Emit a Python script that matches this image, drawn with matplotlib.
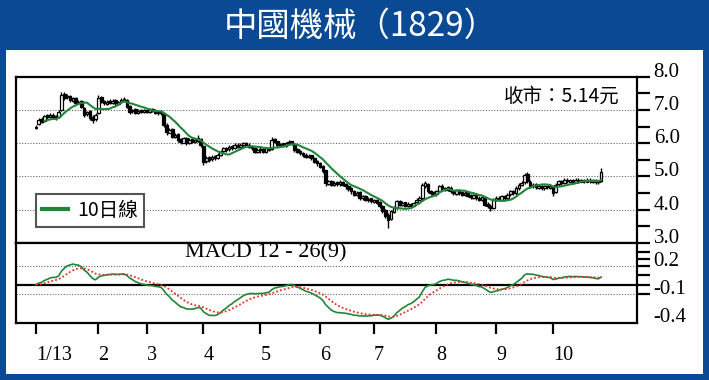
import matplotlib
matplotlib.use('Agg')
import matplotlib.pyplot as plt
from matplotlib.patches import Rectangle
from matplotlib.lines import Line2D
import numpy as np
import pandas as pd

plt.rcParams['axes.unicode_minus'] = False

# daily candles, one list per month (Jan-Oct 2013)
jan_open = [6.45, 6.58, 6.72, 6.68, 6.85, 6.80, 6.86, 6.82, 6.78, 7.00, 7.48, 7.38, 7.42, 7.28, 7.36, 7.22, 7.26, 7.05, 6.88, 6.98, 6.80, 6.72]
jan_high = [6.55, 6.75, 6.78, 6.86, 6.88, 6.90, 6.90, 6.85, 7.00, 7.55, 7.55, 7.48, 7.45, 7.40, 7.40, 7.30, 7.30, 7.10, 6.98, 7.00, 6.85, 6.90]
jan_low = [6.42, 6.55, 6.60, 6.65, 6.74, 6.78, 6.76, 6.70, 6.76, 6.98, 7.30, 7.32, 7.25, 7.25, 7.15, 7.18, 7.05, 6.80, 6.82, 6.70, 6.60, 6.68]
jan_close = [6.50, 6.70, 6.65, 6.82, 6.78, 6.85, 6.80, 6.75, 6.95, 7.45, 7.35, 7.40, 7.30, 7.35, 7.20, 7.25, 7.10, 6.85, 6.95, 6.75, 6.70, 6.85]

feb_open = [6.90, 7.38, 7.28, 7.18, 7.28, 7.22, 7.30, 7.18, 7.24, 7.28, 7.30, 7.12, 6.96, 7.02, 6.92, 7.00, 6.94]
feb_high = [7.45, 7.42, 7.30, 7.30, 7.32, 7.32, 7.32, 7.28, 7.35, 7.38, 7.32, 7.15, 7.04, 7.05, 7.02, 7.04, 7.04]
feb_low = [6.88, 7.20, 7.15, 7.15, 7.18, 7.18, 7.16, 7.14, 7.20, 7.24, 7.05, 6.88, 6.90, 6.88, 6.88, 6.90, 6.90]
feb_close = [7.35, 7.25, 7.20, 7.25, 7.22, 7.28, 7.20, 7.25, 7.30, 7.32, 7.10, 6.95, 7.00, 6.92, 6.98, 6.95, 7.00]

mar_open = [7.00, 6.94, 7.02, 6.98, 6.90, 6.96, 6.88, 6.55, 6.32, 6.42, 6.18, 6.28, 6.12, 6.02, 6.16, 6.02, 6.12, 6.04, 6.08, 6.12]
mar_high = [7.04, 7.05, 7.05, 7.02, 6.98, 7.00, 6.90, 6.60, 6.45, 6.45, 6.30, 6.30, 6.15, 6.20, 6.20, 6.15, 6.15, 6.15, 6.25, 6.15]
mar_low = [6.90, 6.90, 6.94, 6.88, 6.86, 6.86, 6.50, 6.25, 6.30, 6.15, 6.15, 6.05, 5.98, 6.00, 5.95, 5.98, 6.00, 6.00, 6.05, 5.90]
mar_close = [6.95, 7.00, 6.98, 6.92, 6.95, 6.90, 6.55, 6.35, 6.40, 6.20, 6.25, 6.10, 6.05, 6.15, 6.00, 6.10, 6.05, 6.10, 6.15, 5.95]

apr_open = [5.92, 5.48, 5.58, 5.52, 5.62, 5.56, 5.66, 5.76, 5.86, 5.82, 5.92, 5.86, 5.96, 5.90, 5.96, 6.00, 5.96, 5.90, 5.86, 5.74]
apr_high = [5.95, 5.62, 5.62, 5.65, 5.65, 5.70, 5.80, 5.90, 5.90, 5.95, 5.95, 6.00, 6.00, 6.00, 6.05, 6.05, 6.00, 5.95, 5.90, 5.85]
apr_low = [5.35, 5.42, 5.45, 5.48, 5.50, 5.52, 5.62, 5.72, 5.75, 5.78, 5.80, 5.82, 5.85, 5.86, 5.90, 5.90, 5.85, 5.80, 5.70, 5.70]
apr_close = [5.45, 5.55, 5.50, 5.60, 5.55, 5.65, 5.75, 5.85, 5.80, 5.90, 5.85, 5.95, 5.90, 5.95, 6.00, 5.95, 5.90, 5.85, 5.75, 5.80]

may_open = [5.82, 5.82, 5.74, 5.86, 5.82, 6.12, 6.06, 5.94, 6.00, 5.92, 6.00, 6.06, 5.98, 5.82, 5.76, 5.72, 5.66, 5.58, 5.64, 5.56, 5.46]
may_high = [5.88, 5.85, 5.90, 5.90, 6.20, 6.15, 6.08, 6.02, 6.02, 6.05, 6.10, 6.08, 6.00, 5.85, 5.80, 5.75, 5.70, 5.68, 5.66, 5.60, 5.50]
may_low = [5.72, 5.70, 5.70, 5.76, 5.80, 6.00, 5.90, 5.90, 5.88, 5.90, 5.96, 5.95, 5.75, 5.70, 5.65, 5.60, 5.55, 5.55, 5.50, 5.40, 5.32]
may_close = [5.80, 5.75, 5.85, 5.80, 6.10, 6.05, 5.95, 5.98, 5.92, 6.00, 6.05, 6.00, 5.80, 5.75, 5.70, 5.65, 5.60, 5.62, 5.55, 5.45, 5.40]

jun_open = [5.42, 5.32, 5.18, 4.78, 4.86, 4.74, 4.82, 4.76, 4.84, 4.76, 4.72, 4.64, 4.56, 4.44, 4.52, 4.34, 4.42, 4.28, 4.34]
jun_high = [5.45, 5.35, 5.20, 4.90, 4.88, 4.85, 4.85, 4.88, 4.86, 4.80, 4.75, 4.68, 4.60, 4.55, 4.55, 4.45, 4.45, 4.38, 4.36]
jun_low = [5.25, 5.10, 4.72, 4.75, 4.70, 4.70, 4.72, 4.72, 4.70, 4.62, 4.55, 4.48, 4.40, 4.40, 4.30, 4.30, 4.25, 4.24, 4.20]
jun_close = [5.30, 5.15, 4.80, 4.85, 4.75, 4.80, 4.78, 4.82, 4.75, 4.70, 4.62, 4.55, 4.45, 4.50, 4.35, 4.40, 4.30, 4.32, 4.25]

jul_open = [4.24, 4.30, 4.22, 4.12, 3.98, 3.85, 3.72, 3.94, 4.06, 4.26, 4.14, 4.22, 4.10, 4.16, 4.12, 4.22, 4.30, 4.34, 4.72, 4.78, 4.56, 4.52]
jul_high = [4.32, 4.32, 4.25, 4.15, 4.02, 3.90, 4.00, 4.10, 4.30, 4.28, 4.25, 4.24, 4.22, 4.20, 4.24, 4.34, 4.40, 4.80, 4.85, 4.80, 4.60, 4.56]
jul_low = [4.20, 4.16, 4.05, 3.90, 3.75, 3.45, 3.70, 3.90, 4.02, 4.10, 4.10, 4.08, 4.08, 4.05, 4.10, 4.20, 4.28, 4.30, 4.65, 4.50, 4.45, 4.40]
jul_close = [4.28, 4.20, 4.10, 3.95, 3.80, 3.70, 3.95, 4.05, 4.25, 4.15, 4.20, 4.12, 4.18, 4.10, 4.20, 4.30, 4.35, 4.75, 4.80, 4.55, 4.50, 4.45]

aug_open = [4.46, 4.56, 4.72, 4.64, 4.58, 4.66, 4.56, 4.48, 4.60, 4.52, 4.44, 4.52, 4.44, 4.36, 4.46, 4.36, 4.28, 4.36, 4.18, 4.12, 4.05]
aug_high = [4.60, 4.75, 4.78, 4.68, 4.72, 4.70, 4.60, 4.62, 4.62, 4.55, 4.55, 4.55, 4.48, 4.48, 4.50, 4.40, 4.42, 4.40, 4.22, 4.18, 4.35]
aug_low = [4.42, 4.52, 4.60, 4.55, 4.55, 4.50, 4.45, 4.45, 4.45, 4.40, 4.40, 4.38, 4.32, 4.32, 4.30, 4.25, 4.25, 4.10, 4.05, 3.95, 4.02]
aug_close = [4.55, 4.70, 4.65, 4.60, 4.68, 4.55, 4.50, 4.58, 4.50, 4.45, 4.50, 4.42, 4.38, 4.45, 4.35, 4.30, 4.38, 4.15, 4.10, 4.05, 4.30]

sep_open = [4.28, 4.36, 4.30, 4.42, 4.34, 4.46, 4.56, 4.50, 4.66, 4.74, 4.82, 5.08, 4.84, 4.70, 4.76, 4.66, 4.72, 4.64, 4.72, 4.66]
sep_high = [4.40, 4.40, 4.45, 4.45, 4.50, 4.60, 4.60, 4.70, 4.80, 4.85, 5.10, 5.12, 4.90, 4.80, 4.80, 4.75, 4.75, 4.75, 4.75, 4.76]
sep_low = [4.25, 4.25, 4.28, 4.30, 4.30, 4.42, 4.45, 4.45, 4.60, 4.70, 4.78, 4.80, 4.65, 4.65, 4.62, 4.62, 4.60, 4.60, 4.62, 4.62]
sep_close = [4.35, 4.30, 4.40, 4.35, 4.45, 4.55, 4.50, 4.65, 4.75, 4.80, 5.05, 4.85, 4.70, 4.75, 4.68, 4.70, 4.65, 4.70, 4.68, 4.72]

oct_open = [4.70, 4.52, 4.76, 4.86, 4.80, 4.90, 4.84, 4.88, 4.84, 4.90, 4.84, 4.88, 4.84, 4.90, 4.84, 4.88, 4.84, 4.86]
oct_high = [4.72, 4.80, 4.90, 4.90, 4.95, 4.95, 4.92, 4.92, 4.95, 4.94, 4.92, 4.92, 4.95, 4.94, 4.92, 4.92, 4.90, 5.25]
oct_low = [4.40, 4.50, 4.72, 4.75, 4.78, 4.80, 4.80, 4.78, 4.80, 4.80, 4.82, 4.80, 4.82, 4.80, 4.80, 4.78, 4.78, 4.84]
oct_close = [4.50, 4.75, 4.85, 4.80, 4.90, 4.85, 4.88, 4.82, 4.90, 4.85, 4.88, 4.85, 4.90, 4.85, 4.88, 4.82, 4.85, 5.14]

month_labels = ['1/13', '2', '3', '4', '5', '6', '7', '8', '9', '10']
opens = [jan_open, feb_open, mar_open, apr_open, may_open, jun_open, jul_open, aug_open, sep_open, oct_open]
highs = [jan_high, feb_high, mar_high, apr_high, may_high, jun_high, jul_high, aug_high, sep_high, oct_high]
lows = [jan_low, feb_low, mar_low, apr_low, may_low, jun_low, jul_low, aug_low, sep_low, oct_low]
closes = [jan_close, feb_close, mar_close, apr_close, may_close, jun_close, jul_close, aug_close, sep_close, oct_close]

o = np.concatenate(opens)
h = np.concatenate(highs)
l = np.concatenate(lows)
c = np.concatenate(closes)
x = np.arange(len(c))
month_start = np.cumsum([0] + [len(m) for m in closes[:-1]])

# indicators
close_s = pd.Series(c)
ma10 = close_s.rolling(10, min_periods=1).mean()
dif = close_s.ewm(span=12, adjust=False).mean() - close_s.ewm(span=26, adjust=False).mean()
dea = dif.ewm(span=9, adjust=False).mean()

blue = '#0a4a94'
green = '#22853a'
red = '#e8302a'
serif = 'Liberation Serif'
cjk = ['Noto Sans CJK TC', 'DejaVu Sans']

fig = plt.figure(figsize=(7.09, 3.80), dpi=100)
fig.patch.set_facecolor(blue)
fig.patches.append(Rectangle((6/709, 1-374/380), 697/709, 324/380, transform=fig.transFigure,
                             facecolor='white', edgecolor='none', zorder=-5))
fig.text(361/709, 1-26/380, '中國機械（1829）', color='white', fontsize=24, family=cjk,
         ha='center', va='center')

W = 621/709
ax1 = fig.add_axes([16/709, 1-243/380, W, (243-76.7)/380])
ax2 = fig.add_axes([16/709, 1-322.5/380, W, (322.5-243)/380], sharex=ax1)

for ax in (ax1, ax2):
    for s in ax.spines.values():
        s.set_linewidth(1.6)
    ax.set_facecolor('white')

# candles
up = c >= o
ax1.vlines(x, l, h, color='black', lw=1.0, zorder=3)
body = np.maximum(np.abs(c - o), 0.03)
ax1.bar(x[up], body[up], bottom=np.minimum(o, c)[up], width=0.9,
        color='white', edgecolor='black', linewidth=0.9, zorder=4)
ax1.bar(x[~up], body[~up], bottom=np.minimum(o, c)[~up], width=0.9,
        color='black', edgecolor='black', linewidth=0.9, zorder=4)
ax1.plot(x[3:], ma10[3:], color=green, lw=1.5, zorder=5)

for v in [4, 5, 6, 7]:
    ax1.axhline(v, color='#666666', lw=0.8, ls=(0, (1, 1.5)), zorder=1)

ax1.set_ylim(3, 8)
ax1.set_xlim(-7, 211.6)
ax1.yaxis.tick_right()
ax1.set_yticks([3, 4, 5, 6, 7, 8])
ax1.set_yticks([3.5, 4.5, 5.5, 6.5, 7.5], minor=True)
ax1.set_yticklabels(['%.1f' % v for v in [3, 4, 5, 6, 7, 8]])
ax1.tick_params(axis='y', which='both', direction='out', length=9, width=1.6, pad=3,
                labelsize=15)
ax1.tick_params(axis='x', which='both', length=0, labelbottom=False)
for lab in ax1.get_yticklabels():
    lab.set_family(serif)
    lab.set_verticalalignment('baseline')

ax1.text(0.9726, 0.88, '收市：%.2f元' % c[-1], transform=ax1.transAxes, ha='right', va='center',
         fontsize=14, family=cjk)

leg = ax1.legend(handles=[Line2D([], [], color=green, lw=3)], labels=['10日線'],
                 loc='lower left', bbox_to_anchor=(0.032, 0.096), borderaxespad=0,
                 fancybox=False, edgecolor='#555555', framealpha=1,
                 prop={'family': cjk, 'size': 14}, handlelength=1.35, handletextpad=0.5,
                 borderpad=0.3)
leg.get_frame().set_linewidth(1.5)

# MACD panel
ax2.plot(x, dif, color=green, lw=1.2, zorder=4)
ax2.plot(x, dea, color=red, lw=1.3, ls=(0, (1, 1.2)), zorder=5)
ax2.axhline(0, color='black', lw=1.6, zorder=3)
for v in [0.2, -0.1]:
    ax2.axhline(v, color='#666666', lw=0.8, ls=(0, (1, 1.5)), zorder=1)
ax2.set_ylim(-0.4, 0.44)
ax2.yaxis.tick_right()
ax2.set_yticks([-0.4, -0.1, 0.2])
ax2.set_yticks([0.0, 0.1, 0.27, 0.35], minor=True)
ax2.set_yticklabels(['-0.4', '-0.1', '0.2'])
ax2.tick_params(axis='y', which='both', direction='out', length=9, width=1.6, pad=3,
                labelsize=15)
ax2.yaxis.get_major_ticks()[0].tick2line.set_visible(False)
for lab in ax2.get_yticklabels():
    lab.set_family(serif)
    lab.set_verticalalignment('baseline')

ax2.text(0.533, 0.874, 'MACD 12 - 26(9)', transform=ax2.transAxes, ha='right', va='center',
         fontsize=16, family=serif)

ax2.set_xticks(month_start)
ax2.set_xticklabels(month_labels)
ax2.tick_params(axis='x', direction='out', length=8, width=1.6, pad=9, labelsize=14.5)
for lab in ax2.get_xticklabels():
    lab.set_family(serif)
    lab.set_horizontalalignment('left')

fig.savefig('out.png', dpi=100, facecolor=blue)
